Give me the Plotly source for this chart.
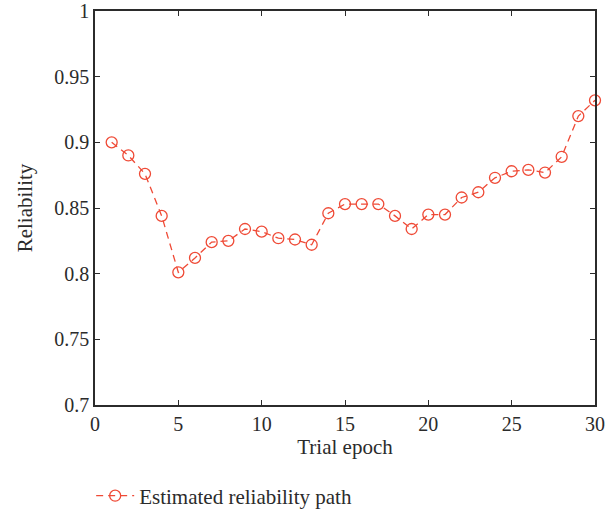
import plotly.graph_objects as go

# Trial epochs and the estimated reliability at each one
epochs = list(range(1, 31))
reliability = [0.900, 0.890, 0.876, 0.844, 0.801, 0.812, 0.824, 0.825, 0.834, 0.832,
               0.827, 0.826, 0.822, 0.846, 0.853, 0.853, 0.853, 0.844, 0.834, 0.845,
               0.845, 0.858, 0.862, 0.873, 0.878, 0.879, 0.877, 0.889, 0.920, 0.932]

x_ticks = [0, 5, 10, 15, 20, 25, 30]
y_ticks = [0.7, 0.75, 0.8, 0.85, 0.9, 0.95, 1]
y_tick_text = ["0.7", "0.75", "0.8", "0.85", "0.9", "0.95", "1"]

red = "#ef4a36"
ink = "#2b2b2b"
serif = "Liberation Serif, Times New Roman, serif"

fig = go.Figure()
fig.add_trace(go.Scatter(
    x=epochs, y=reliability,
    mode="lines+markers",
    name="Estimated reliability path",
    line=dict(color=red, width=1.3, dash="7px,5px"),
    marker=dict(symbol="circle-open", size=11, color=red, line=dict(width=1.3, color=red)),
    cliponaxis=False,
))

axis_common = dict(
    showline=True, linecolor=ink, linewidth=1.5, mirror="ticks",
    ticks="inside", ticklen=5, tickwidth=1.2, tickcolor=ink,
    showgrid=False, zeroline=False, automargin=False,
    tickfont=dict(family=serif, size=20, color=ink),
)

fig.update_xaxes(
    range=[0, 30], tickvals=x_ticks,
    title=dict(text="Trial epoch", font=dict(family=serif, size=21, color=ink), standoff=6),
    **axis_common,
)
fig.update_yaxes(
    range=[0.7, 1.0], tickvals=y_ticks, ticktext=y_tick_text,
    title=dict(text="Reliability", font=dict(family=serif, size=21, color=ink), standoff=16),
    **axis_common,
)

fig.update_layout(
    width=616, height=513,
    margin=dict(l=95, r=21, t=11, b=108),
    plot_bgcolor="white", paper_bgcolor="white",
    showlegend=True,
    legend=dict(
        xref="container", yref="container",
        x=0.148, y=0.033, xanchor="left", yanchor="middle",
        orientation="h", itemwidth=38,
        font=dict(family=serif, size=21, color=ink),
        bgcolor="rgba(0,0,0,0)",
    ),
)

fig.write_html("out.html")
